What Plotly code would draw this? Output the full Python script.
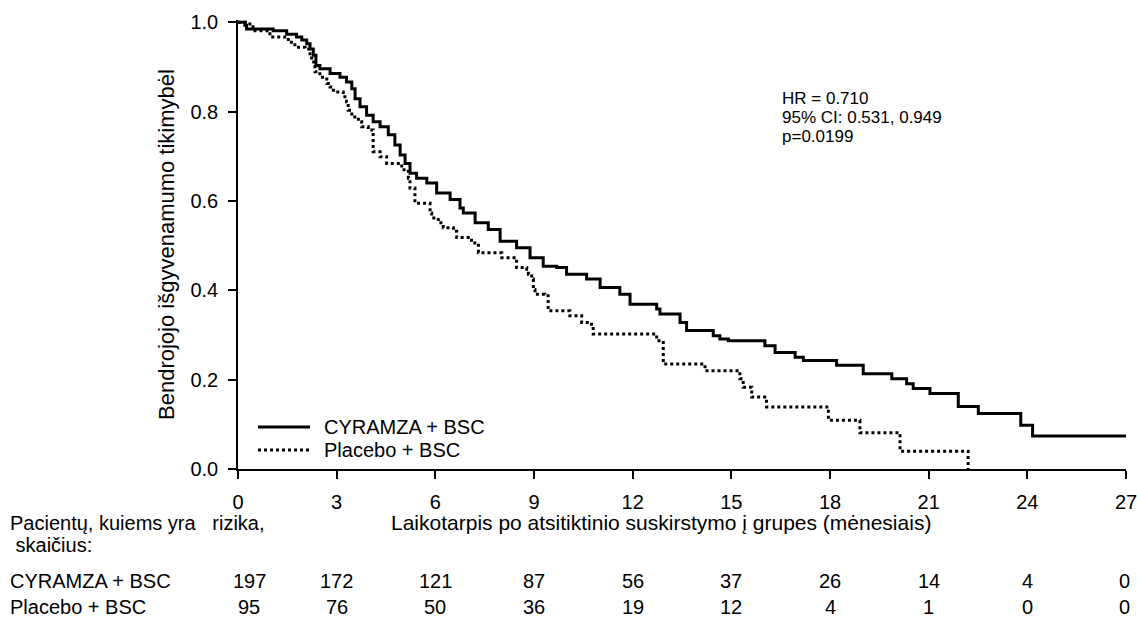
import plotly.graph_objects as go

# Kaplan-Meier step data (months, survival probability after each drop)
cyr_time = [0, 0.21, 0.26, 1.07, 1.48, 1.78, 1.94, 2.09, 2.19, 2.29, 2.37, 2.49, 2.80, 3.10,
            3.30, 3.46, 3.56, 3.71, 3.91, 4.11, 4.32, 4.57, 4.77, 4.93, 5.08, 5.23, 5.43,
            5.74, 6.04, 6.45, 6.75, 6.85, 7.21, 7.61, 7.97, 8.47, 8.88, 9.28, 9.69, 9.99,
            10.60, 11.01, 11.61, 11.92, 12.73, 12.83, 13.44, 13.64, 14.45, 14.65, 14.91,
            16.02, 16.33, 16.94, 17.19, 18.20, 19.01, 19.88, 20.33, 20.53, 21.04, 21.90,
            22.51, 23.80, 24.16, 27.0]
cyr_surv = [1.0, 0.993, 0.985, 0.981, 0.973, 0.967, 0.960, 0.952, 0.940, 0.926, 0.903, 0.896,
            0.885, 0.877, 0.866, 0.851, 0.829, 0.811, 0.792, 0.777, 0.766, 0.748, 0.725,
            0.703, 0.684, 0.662, 0.651, 0.640, 0.618, 0.603, 0.584, 0.573, 0.551, 0.536,
            0.510, 0.495, 0.473, 0.454, 0.451, 0.436, 0.425, 0.406, 0.391, 0.369, 0.358,
            0.347, 0.328, 0.310, 0.298, 0.291, 0.287, 0.276, 0.261, 0.250, 0.243, 0.232,
            0.213, 0.202, 0.191, 0.180, 0.169, 0.140, 0.124, 0.098, 0.074, 0.074]

pbo_time = [0, 0.36, 0.52, 0.97, 1.53, 1.73, 2.04, 2.19, 2.24, 2.34, 2.49, 2.70, 2.80, 2.90,
            3.20, 3.30, 3.35, 3.46, 3.66, 3.76, 3.96, 4.11, 4.32, 4.52, 4.98, 5.18, 5.23,
            5.38, 5.84, 5.89, 6.09, 6.24, 6.55, 6.65, 7.10, 7.31, 8.02, 8.47, 8.78, 8.83,
            8.93, 8.98, 9.03, 9.33, 9.43, 10.09, 10.45, 10.70, 10.80, 12.73, 12.93, 14.20,
            15.26, 15.36, 15.62, 16.07, 17.95, 18.91, 20.13, 22.20]
pbo_surv = [1.0, 0.990, 0.981, 0.967, 0.955, 0.944, 0.940, 0.926, 0.911, 0.889, 0.877, 0.863,
            0.855, 0.844, 0.833, 0.822, 0.803, 0.788, 0.777, 0.766, 0.759, 0.710, 0.699,
            0.684, 0.670, 0.651, 0.629, 0.595, 0.573, 0.562, 0.551, 0.540, 0.532, 0.518,
            0.506, 0.484, 0.473, 0.451, 0.447, 0.436, 0.425, 0.402, 0.391, 0.388, 0.354,
            0.343, 0.328, 0.324, 0.302, 0.287, 0.235, 0.220, 0.202, 0.183, 0.161, 0.139,
            0.109, 0.081, 0.040, 0.0]

group_names = ["CYRAMZA + BSC", "Placebo + BSC"]
x_ticks = [0, 3, 6, 9, 12, 15, 18, 21, 24, 27]
y_ticks = [0.0, 0.2, 0.4, 0.6, 0.8, 1.0]
risk_times = [0, 3, 6, 9, 12, 15, 18, 21, 24, 27]
cyr_risk = [197, 172, 121, 87, 56, 37, 26, 14, 4, 0]
pbo_risk = [95, 76, 50, 36, 19, 12, 4, 1, 0, 0]
stats_lines = ["HR = 0.710", "95% CI: 0.531, 0.949", "p=0.0199"]
risk_header = ["Pacientų, kuiems yra\u00a0\u00a0 rizika,", "\u00a0skaičius:"]
y_title = "Bendrojojo išgyvenamumo tikimybėl"
x_title = "Laikotarpis po atsitiktinio suskirstymo į grupes (mėnesiais)"

FONT = "Arial, Liberation Sans, sans-serif"
FS = 20

# plot area in pixels (used to convert layout pixel positions to paper coords)
W, H = 1137, 629
L, R, T, B = 238, 11, 20, 160
PW, PH = W - L - R, H - T - B


def px(x):
    return (x - L) / PW


def py(y):
    return (H - B - y) / PH


fig = go.Figure()
line_styles = [dict(color="black", width=3, shape="hv"),
               dict(color="black", width=3, shape="hv", dash="dot")]
for name, t, s, ls in zip(group_names, [cyr_time, pbo_time], [cyr_surv, pbo_surv], line_styles):
    fig.add_trace(go.Scatter(x=t, y=s, mode="lines", name=name, line=ls, showlegend=False))

annotations = []
shapes = []
txt = dict(family=FONT, color="black")

# statistics box
for i, line in enumerate(stats_lines):
    annotations.append(dict(text=line, x=px(780), y=py(98 + 19 * i), xref="paper", yref="paper",
                            xanchor="left", yanchor="middle", showarrow=False,
                            font=dict(size=17, **txt)))
# axis titles
annotations.append(dict(text=y_title, textangle=-90, x=px(166), y=py(245), xref="paper", yref="paper",
                        xanchor="center", yanchor="middle",
                        showarrow=False, font=dict(size=22, **txt)))
annotations.append(dict(text=x_title, x=px(661), y=py(522), xref="paper", yref="paper",
                        showarrow=False, xanchor="center", yanchor="middle",
                        font=dict(size=21, **txt)))
# number at risk header
for i, line in enumerate(risk_header):
    annotations.append(dict(text=line, x=px(8), y=py(523 + 22 * i), xref="paper", yref="paper",
                            xanchor="left", yanchor="middle", showarrow=False,
                            font=dict(size=FS, **txt)))
# number at risk rows
row_px = [581, 607]
for gi, (name, counts) in enumerate(zip(group_names, [cyr_risk, pbo_risk])):
    annotations.append(dict(text=name, x=px(8), y=py(row_px[gi]), xref="paper", yref="paper",
                            xanchor="left", yanchor="middle", showarrow=False,
                            font=dict(size=FS, **txt)))
    for i, (t, c) in enumerate(zip(risk_times, counts)):
        annotations.append(dict(text=str(c), x=t, y=py(row_px[gi]), xref="x", yref="paper",
                                xanchor="center", yanchor="middle", showarrow=False,
                                xshift=11 if i == 0 else (-2 if i == len(risk_times) - 1 else 0),
                                font=dict(size=FS, **txt)))
# legend (drawn as key lines + labels)
leg_y = [427, 450]
for gi, name in enumerate(group_names):
    shapes.append(dict(type="line", xref="paper", yref="paper", x0=px(258), x1=px(310),
                       y0=py(leg_y[gi]), y1=py(leg_y[gi]),
                       line=dict(color="black", width=3, dash="solid" if gi == 0 else "dot")))
    annotations.append(dict(text=name, x=px(322), y=py(leg_y[gi]), xref="paper", yref="paper",
                            xanchor="left", yanchor="middle", showarrow=False,
                            font=dict(size=FS, **txt)))

fig.update_layout(
    width=W, height=H,
    margin=dict(l=L, r=R, t=T, b=B),
    paper_bgcolor="white", plot_bgcolor="white",
    font=dict(family=FONT, size=FS, color="black"),
    showlegend=False,
    annotations=annotations,
    shapes=shapes,
)
fig.update_xaxes(range=[0, 27], tickvals=x_ticks, ticktext=[str(v) for v in x_ticks],
                 showline=True, linecolor="black", linewidth=1.5, ticks="outside",
                 ticklen=8, tickwidth=1.5, tickcolor="black", showgrid=False, zeroline=False,
                 ticklabelstandoff=6, ticklabeloverflow="allow", automargin=False,
                 tickfont=dict(size=FS, family=FONT))
fig.update_yaxes(range=[0, 1.005], tickvals=y_ticks, ticktext=[f"{v:.1f}" for v in y_ticks],
                 showline=True, linecolor="black", linewidth=1.5, ticks="outside",
                 ticklen=8, tickwidth=1.5, tickcolor="black", showgrid=False, zeroline=False,
                 ticklabelstandoff=6, ticklabeloverflow="allow", automargin=False,
                 tickfont=dict(size=FS, family=FONT))

fig.write_html("out.html")
